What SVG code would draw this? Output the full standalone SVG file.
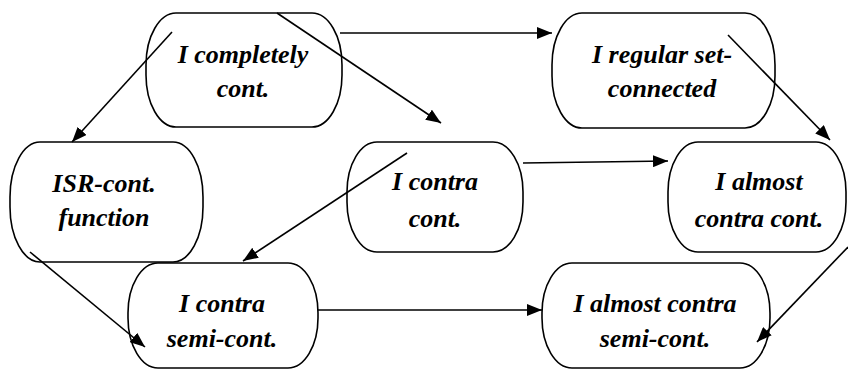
<svg xmlns="http://www.w3.org/2000/svg" width="848" height="369" viewBox="0 0 848 369">
<defs>
<marker id="ah" markerUnits="userSpaceOnUse" markerWidth="15" markerHeight="12" refX="15" refY="6" orient="auto">
<path d="M0,0 L15,6 L0,12 z" fill="#000"/>
</marker>
<style>
.box{fill:#fff;stroke:#000;stroke-width:1.6}
.lbl{font-family:"Liberation Serif","Times New Roman",serif;font-weight:bold;font-style:italic;font-size:26px;fill:#000;text-anchor:middle}
.cn{stroke:#000;stroke-width:1.6;fill:none;marker-end:url(#ah)}
</style>
</defs>
<rect width="848" height="369" fill="#fff"/>
<g id="n1"><rect class="box" x="146" y="13" width="196" height="114" rx="30" ry="52"/><text class="lbl" x="243" y="63">I completely</text><text class="lbl" x="243" y="97">cont.</text></g>
<g id="n2"><rect class="box" x="552" y="13" width="223" height="115" rx="30" ry="52"/><text class="lbl" x="662" y="63">I regular set-</text><text class="lbl" x="662" y="97">connected</text></g>
<g id="n3"><rect class="box" x="10" y="142" width="193" height="120" rx="30" ry="55"/><text class="lbl" x="104" y="192">ISR-cont.</text><text class="lbl" x="104" y="226">function</text></g>
<g id="n4"><rect class="box" x="347" y="142" width="176" height="110" rx="30" ry="50"/><text class="lbl" x="435" y="190">I contra</text><text class="lbl" x="435" y="227">cont.</text></g>
<g id="n5"><rect class="box" x="668" y="142" width="178" height="110" rx="30" ry="50"/><text class="lbl" x="759" y="190">I almost</text><text class="lbl" x="759" y="227">contra cont.</text></g>
<g id="n6"><rect class="box" x="128" y="263" width="190" height="105" rx="30" ry="50"/><text class="lbl" x="222" y="312">I contra</text><text class="lbl" x="222" y="347">semi-cont.</text></g>
<g id="n7"><rect class="box" x="542" y="263" width="228" height="105" rx="30" ry="50"/><text class="lbl" x="655" y="312">I almost contra</text><text class="lbl" x="655" y="347">semi-cont.</text></g>
<g id="connectors">
<line class="cn" x1="172" y1="32" x2="72" y2="142"/>
<line class="cn" x1="277" y1="13" x2="441" y2="123"/>
<line class="cn" x1="340" y1="33" x2="552" y2="33"/>
<line class="cn" x1="728" y1="35" x2="830" y2="140"/>
<line class="cn" x1="407" y1="153" x2="243" y2="261"/>
<line class="cn" x1="523" y1="163" x2="668" y2="161"/>
<line class="cn" x1="30" y1="252" x2="145" y2="347"/>
<line class="cn" x1="318" y1="310" x2="542" y2="310"/>
<line class="cn" x1="848" y1="247" x2="757" y2="342"/>
</g>
</svg>
